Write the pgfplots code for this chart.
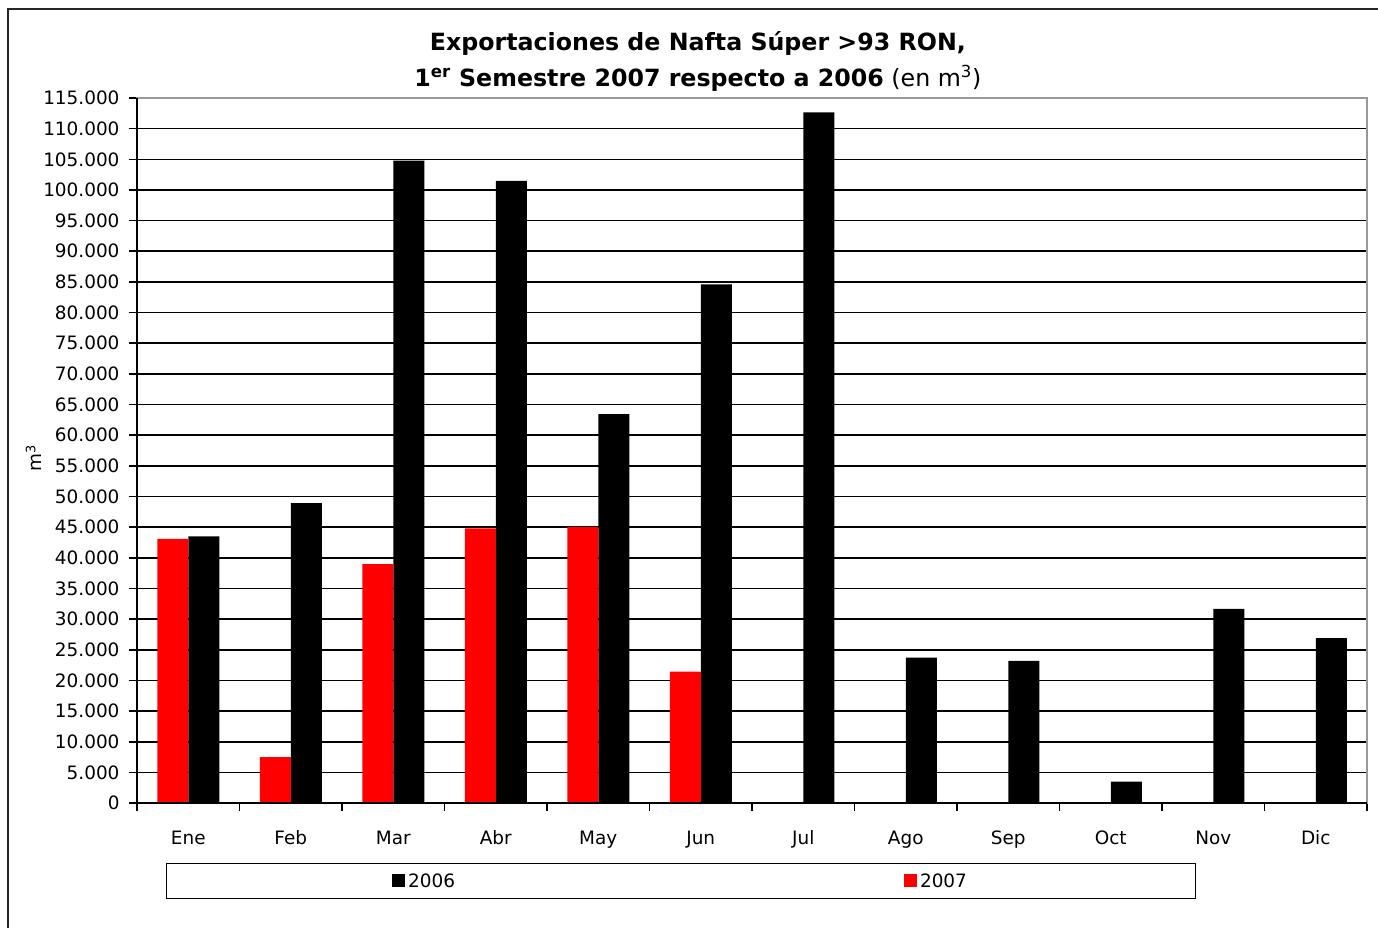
\documentclass[border=0pt]{standalone}
\usepackage{pgfplots}
\pgfplotsset{compat=1.18}
\usepackage{fontspec}
\setmainfont{DejaVu Sans}
\pgfplotstableread{
x v2006 v2007
0 43500 43100
1 48900 7500
2 104800 38950
3 101500 44800
4 63450 45000
5 84600 21450
6 112650 0
7 23700 0
8 23200 0
9 3500 0
10 31650 0
11 26900 0
}\datatable
\begin{document}
\begin{tikzpicture}
\draw[line width=2bp, black!85] (8bp,-1000bp) -- (8bp,-9bp) -- (1500bp,-9bp);
\begin{axis}[
  at={(137bp,-803bp)}, anchor=south west,
  scale only axis, width=1230bp, height=705bp,
  xmin=-0.5, xmax=11.5, ymin=0, ymax=115000,
  axis line style={draw=gray!80, line width=1.6bp},
  ytick={0,5000,...,115000},
  ymajorgrids, grid style={black, line width=1.6bp},
  tick align=outside, major tick length=8bp,
  tick style={black, line width=1.6bp},
  xtick pos=bottom, ytick pos=left,
  xtick={-0.5,0.5,...,11.5}, xticklabels={},
  extra x ticks={0,1,2,3,4,5,6,7,8,9,10,11},
  extra x tick labels={Ene,Feb,Mar,Abr,May,Jun,Jul,Ago,Sep,Oct,Nov,Dic},
  extra x tick style={major tick length=0pt, tick style={draw=none}},
  xticklabel style={anchor=base, yshift=-41bp},
  tick label style={font=\fontsize{18.5}{20}\selectfont},
  scaled y ticks=false,
  yticklabel style={/pgf/number format/fixed, /pgf/number format/1000 sep={.}, /pgf/number format/assume math mode=true, xshift=-6bp},
  ylabel={m\textsuperscript{3}},
  ylabel style={font=\fontsize{18.5}{20}\selectfont, at={(axis description cs:-0.084,0.489)}, anchor=center},
  title={\textbf{Exportaciones de Nafta Súper >93 RON,}\\\textbf{1\textsuperscript{er} Semestre 2007 respecto a 2006} (en m\textsuperscript{3})},
  title style={font=\fontsize{23.8}{36}\selectfont, align=center, at={(axis description cs:0.456,1.043)}, anchor=center},
  ybar, bar width=31bp,
  legend columns=2,
  legend style={at={(axis description cs:0.4423,-0.1106)}, anchor=center,
    draw=black, line width=1.6bp, inner xsep=225.5bp, inner ysep=8bp,
    font=\fontsize{18.5}{20}\selectfont,
    /tikz/every even column/.append style={column sep=446bp},
    nodes={inner xsep=3bp}},
  legend image code/.code={\fill[#1, draw=none] (0bp,-6.5bp) rectangle (13bp,6.5bp);},
  after end axis/.code={
    \draw[black, line width=1.8bp] (rel axis cs:0,1) -- (rel axis cs:0,0) -- (rel axis cs:1,0);
  },
]
\addplot[fill=black, draw=none, bar shift=15.5bp] table[x=x, y=v2006] {\datatable};
\addlegendentry{2006}
\addplot[fill=red, draw=none, bar shift=-15.5bp] table[x=x, y=v2007] {\datatable};
\addlegendentry{2007}
\end{axis}
\pgfresetboundingbox
\path[use as bounding box] (0bp,0bp) rectangle (1378bp,-928bp);
\end{tikzpicture}
\end{document}
